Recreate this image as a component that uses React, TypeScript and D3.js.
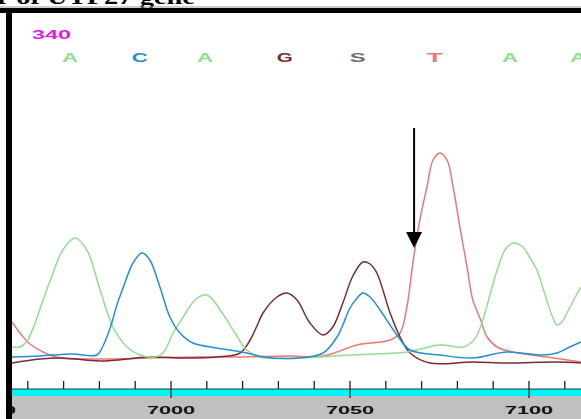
import React from 'react';
import * as d3 from 'd3';

// trace knots: [position, intensity]
const traceA: [number, number][] = [
  [6955.6, 18], [6957.8, 18], [6959.8, 24], [6961.5, 37], [6963.4, 56], [6966.2, 84],
  [6969.8, 115], [6973.2, 127], [6976.5, 115], [6980.2, 75], [6983.8, 38], [6987.7, 18],
  [6991.3, 10], [6995.5, 8], [6997.8, 12], [7000.6, 32], [7003.4, 48], [7006.7, 65],
  [7010.1, 70], [7014.5, 51], [7017.9, 32], [7021.2, 15], [7024.9, 8], [7036.0, 7],
  [7050.0, 10], [7065.9, 13], [7075.1, 20], [7081.6, 18], [7084.1, 23], [7085.5, 30],
  [7087.1, 45], [7089.1, 70], [7091.1, 95], [7093.3, 115], [7095.5, 122], [7098.3, 118],
  [7100.3, 107], [7102.2, 95], [7104.5, 70], [7106.7, 47], [7107.8, 40], [7109.2, 43],
  [7110.6, 52], [7112.8, 67], [7114.5, 78],
];

const traceC: [number, number][] = [
  [6955.6, 8], [6963.4, 9], [6972.3, 11], [6979.3, 10], [6981.0, 19], [6983.0, 37],
  [6984.9, 60], [6986.6, 77], [6989.4, 102], [6991.9, 112], [6994.1, 105], [6996.9, 78],
  [6999.7, 48], [7002.5, 32], [7006.1, 22], [7012.8, 17], [7021.2, 12], [7025.7, 8],
  [7036.0, 7], [7042.5, 12], [7046.4, 28], [7048.0, 40], [7050.0, 57], [7052.0, 67],
  [7053.6, 72], [7055.6, 68], [7058.4, 55], [7061.2, 40], [7063.1, 30], [7066.8, 15],
  [7075.1, 10], [7084.3, 7], [7093.8, 13], [7103.1, 10], [7107.8, 12], [7111.4, 18],
  [7114.5, 23],
];

const traceG: [number, number][] = [
  [6955.6, 2], [6963.4, 6], [6969.6, 7], [6980.2, 4], [6994.1, 8], [7003.4, 7],
  [7012.8, 8], [7019.3, 12], [7022.1, 25], [7024.0, 39], [7025.7, 52], [7029.6, 68],
  [7032.4, 72], [7035.2, 65], [7038.8, 42], [7042.5, 30], [7045.2, 38], [7048.0, 62],
  [7050.8, 89], [7053.6, 103], [7055.6, 101], [7057.5, 92], [7061.2, 52], [7064.0, 28],
  [7066.8, 12], [7072.3, 2], [7084.3, 3], [7093.8, 2], [7107.8, 3], [7114.5, 2],
];

const traceT: [number, number][] = [
  [6955.6, 43], [6957.8, 32], [6960.6, 21], [6964.8, 12], [6969.0, 7], [6980.2, 6],
  [6994.1, 7], [7008.1, 8], [7019.3, 8], [7033.2, 9], [7042.5, 9], [7052.0, 20],
  [7061.2, 25], [7064.0, 32], [7065.9, 58], [7067.6, 103], [7069.5, 145], [7071.5, 178],
  [7073.2, 205], [7075.1, 212], [7077.1, 205], [7078.8, 178], [7080.7, 138], [7082.7, 98],
  [7084.3, 65], [7086.3, 47], [7088.3, 28], [7091.1, 18], [7095.5, 13], [7105.0, 8],
  [7114.5, 3],
];

const baseLetters = ['A', 'C', 'A', 'G', 'S', 'T', 'A', 'A'];
const basePositions = [6971.8, 6991.3, 7009.5, 7031.8, 7052.2, 7073.7, 7094.7, 7113.7];
const ticks = d3.range(6950, 7120, 10);
const arrowAt = { pos: 7067.9, from: 237, to: 117 };

const COLORS: Record<string, string> = {
  A: '#8ee08e',
  C: '#2190d6',
  G: '#7a2a32',
  S: '#6e6e6e',
  T: '#ee7676',
};

const W = 581, H = 419;

export default function App() {
  const x = d3.scaleLinear().domain([7000, 7100]).range([171, 529]);
  const y = d3.scaleLinear().domain([0, 250]).range([365, 115]);
  const line = d3.line<[number, number]>()
    .x(d => x(d[0]))
    .y(d => y(d[1]))
    .curve(d3.curveCatmullRom.alpha(0.5));

  const traces: [string, [number, number][]][] = [
    ['T', traceT], ['G', traceG], ['A', traceA], ['C', traceC],
  ];

  const axisY = 389;
  const ax = x(arrowAt.pos);

  return (
    <svg width={W} height={H} style={{ position: 'absolute', left: 0, top: 0, background: '#fff' }}
      fontFamily="'Liberation Sans', Arial, sans-serif">
      <defs>
        <clipPath id="panel">
          <rect x={12} y={13} width={W - 12} height={H - 13} />
        </clipPath>
      </defs>

      {/* clipped caption above the frame */}
      <text x={-3} y={4} fontFamily="'Liberation Serif', serif" fontWeight="bold" fontSize={22}
        textLength={198} lengthAdjust="spacingAndGlyphs" fill="#000">r of UTP27 gene</text>

      <g clipPath="url(#panel)">
        <text x={32} y={39} fontSize={12} fontWeight="bold" fill="#e01ee0"
          textLength={39} lengthAdjust="spacingAndGlyphs">340</text>

        {baseLetters.map((b, i) => (
          <text key={i} x={x(basePositions[i])} y={62} fontSize={13.5} fontWeight="bold"
            fill={COLORS[b]} textAnchor="middle" textLength={16} lengthAdjust="spacingAndGlyphs">{b}</text>
        ))}

        {traces.map(([b, data]) => (
          <path key={b} d={line(data) || ''} fill="none" stroke={COLORS[b]} strokeWidth={1.5} />
        ))}

        {/* arrow */}
        <line x1={ax} x2={ax} y1={y(arrowAt.from)} y2={y(arrowAt.to) - 14} stroke="#000" strokeWidth={2} />
        <path d={`M${ax - 8},${y(arrowAt.to) - 16}L${ax + 8},${y(arrowAt.to) - 16}L${ax},${y(arrowAt.to)}Z`} fill="#000" />

        {/* scale bar */}
        <rect x={12} y={axisY} width={W - 12} height={7} fill="#00f6f6" />
        <rect x={12} y={axisY + 7} width={W - 12} height={H - axisY - 7} fill="#c0c0c0" />
        <line x1={12} x2={W} y1={axisY} y2={axisY} stroke="#333" strokeWidth={1} />
        {ticks.map(t => {
          const major = t % 50 === 0;
          return (
            <g key={t}>
              <line x1={x(t)} x2={x(t)} y1={381} y2={major ? 398 : axisY} stroke="#222" strokeWidth={1.3} />
              {major && (
                <text x={x(t)} y={414} fontSize={11.5} fontWeight="bold" fill="#111" textAnchor="middle"
                  textLength={48} lengthAdjust="spacingAndGlyphs">{t}</text>
              )}
            </g>
          );
        })}
      </g>

      {/* frame */}
      <line x1={0} x2={W} y1={7} y2={7} stroke="#9a9a9a" strokeWidth={1} />
      <rect x={0} y={8} width={W} height={5} fill="#000" />
      <rect x={6} y={8} width={6} height={H - 8} fill="#000" />
    </svg>
  );
}
